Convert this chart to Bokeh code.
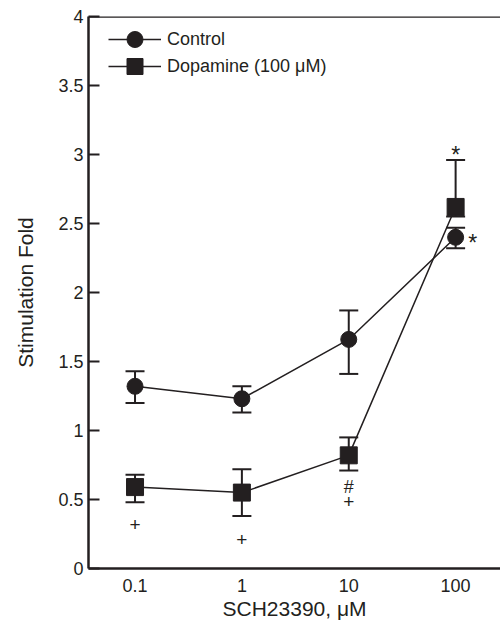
from bokeh.plotting import figure
from bokeh.models import (ColumnDataSource, Whisker, TeeHead, FixedTicker, Span,
                          Legend, LegendItem)
from bokeh.embed import file_html
from bokeh.resources import INLINE
from bokeh.core.properties import value

# ---- data ----
doses = [0.1, 1, 10, 100]
dose_labels = ["0.1", "1", "10", "100"]
control_mean = [1.32, 1.23, 1.66, 2.40]
control_upper = [1.43, 1.32, 1.87, 2.47]
control_lower = [1.20, 1.13, 1.41, 2.32]
dopamine_mean = [0.59, 0.55, 0.82, 2.62]
dopamine_upper = [0.68, 0.72, 0.95, 2.96]
dopamine_lower = [0.48, 0.38, 0.71, 2.55]
y_ticks = [0, 0.5, 1, 1.5, 2, 2.5, 3, 3.5, 4]
y_tick_labels = ["0", "0.5", "1", "1.5", "2", "2.5", "3", "3.5", "4"]

INK = "#231f20"
FONT = "Liberation Sans"

p = figure(width=500, height=628, x_axis_type="log", x_range=(0.0367, 263),
           y_range=(0, 4), output_backend="svg", toolbar_location=None,
           min_border_left=88, min_border_right=0, min_border_top=16,
           min_border_bottom=60)
p.outline_line_color = None
p.grid.visible = False
p.background_fill_color = "white"
p.border_fill_color = "white"

# top frame line
p.add_layout(Span(location=4, dimension="width", line_color=INK, line_width=2.5))

# axes
p.xaxis.ticker = FixedTicker(ticks=doses)
p.xaxis.major_label_overrides = {d: l for d, l in zip(doses, dose_labels)}
p.xaxis.major_tick_in = 0
p.xaxis.major_tick_out = 0
p.xaxis.minor_tick_in = 0
p.xaxis.minor_tick_out = 0
p.xaxis.axis_label = "SCH23390, \u03bcM"
p.yaxis.ticker = FixedTicker(ticks=y_ticks)
p.yaxis.major_label_overrides = {t: l for t, l in zip(y_ticks, y_tick_labels)}
p.yaxis.major_tick_in = 11
p.yaxis.major_tick_out = 0
p.yaxis.minor_tick_in = 0
p.yaxis.minor_tick_out = 0
p.yaxis.axis_label = "Stimulation Fold"
for ax in (p.xaxis, p.yaxis):
    ax.axis_line_color = INK
    ax.axis_line_width = 2.5
    ax.major_tick_line_color = INK
    ax.major_tick_line_width = 2
    ax.major_label_text_font = FONT
    ax.major_label_text_font_size = "18px"
    ax.major_label_text_color = INK
    ax.axis_label_text_font = FONT
    ax.axis_label_text_font_size = "21px"
    ax.axis_label_text_font_style = "normal"
    ax.axis_label_text_color = INK
p.xaxis.major_label_standoff = 10
p.xaxis.axis_label_standoff = 2
p.yaxis.major_label_standoff = 5
p.yaxis.axis_label_standoff = 18

src_c = ColumnDataSource(dict(x=doses, y=control_mean, up=control_upper, lo=control_lower))
src_d = ColumnDataSource(dict(x=doses, y=dopamine_mean, up=dopamine_upper, lo=dopamine_lower))

lc = p.line("x", "y", source=src_c, line_color=INK, line_width=1.5)
ld = p.line("x", "y", source=src_d, line_color=INK, line_width=1.5)

for src in (src_c, src_d):
    w = Whisker(source=src, base="x", upper="up", lower="lo", line_color=INK,
                line_width=2,
                upper_head=TeeHead(size=19, line_color=INK, line_width=2),
                lower_head=TeeHead(size=19, line_color=INK, line_width=2))
    p.add_layout(w)

mc = p.scatter("x", "y", source=src_c, marker="circle", size=16,
               fill_color=INK, line_color=INK)
md = p.scatter("x", "y", source=src_d, marker="square", size=17,
               fill_color=INK, line_color=INK)

# significance marks, placed relative to the error bars
ann = dict(x=[], y=[], t=[], xo=[], yo=[], fs=[])
def mark(x, y, t, xo, yo, fs):
    ann["x"].append(x); ann["y"].append(y); ann["t"].append(t)
    ann["xo"].append(xo); ann["yo"].append(yo); ann["fs"].append(fs)
mark(doses[0], dopamine_lower[0], "+", 0, 22, "19px")
mark(doses[1], dopamine_lower[1], "+", 0, 23, "19px")
mark(doses[2], dopamine_lower[2], "#", 0, 16, "18px")
mark(doses[2], dopamine_lower[2], "+", 0, 31, "19px")
mark(doses[3], dopamine_upper[3], "*", 0, -5, "23px")
mark(doses[3], control_mean[3], "*", 17, 6, "23px")
p.text("x", "y", text="t", x_offset="xo", y_offset="yo",
       source=ColumnDataSource(ann), text_align="center",
       text_baseline="middle", text_font=value(FONT),
       text_font_size="fs", text_color=INK)

def make_legend(label, renderers, row_center_from_top):
    gh = 40
    frame_h = 568 - 16
    bottom_from_frame_bottom = frame_h - (row_center_from_top + gh / 2)
    return Legend(items=[LegendItem(label=label, renderers=renderers)],
                  location=(20, bottom_from_frame_bottom), padding=0, margin=0,
                  spacing=0, glyph_width=53, glyph_height=gh, label_standoff=6,
                  label_text_font=FONT, label_text_font_size="18px",
                  label_text_color=INK, background_fill_alpha=0,
                  border_line_color=None)

p.add_layout(make_legend("Control", [lc, mc], 23))
p.add_layout(make_legend("Dopamine (100 \u03bcM)", [ld, md], 50))

open("out.html", "w").write(file_html(p, INLINE))
